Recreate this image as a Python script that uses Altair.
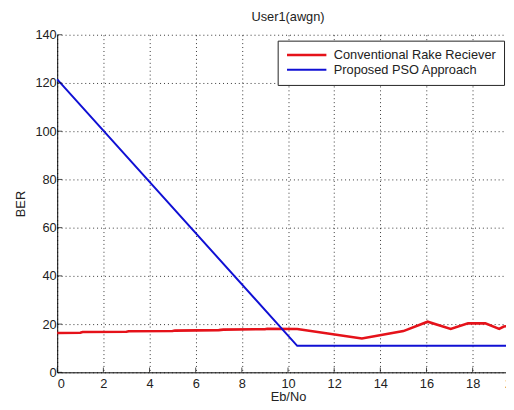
import altair as alt
import pandas as pd

title_text = "User1(awgn)"
x_title = "Eb/No"
y_title = "BER"
series_names = ["Conventional Rake Reciever", "Proposed PSO Approach"]
series_colors = ["#e5121a", "#1010d4"]

rake_x = [0, 1, 1.1, 3, 3.1, 5, 5.1, 7, 7.2, 9, 9.1, 10.4, 13.2, 15, 16.05, 17.05, 17.8, 18.55, 19.15, 19.35, 19.6]
rake_y = [16.3, 16.4, 16.7, 16.8, 17.0, 17.1, 17.3, 17.5, 17.7, 17.9, 18.1, 18.0, 14.0, 17.1, 21.0, 18.0, 20.3, 20.3, 18.0, 19.0, 19.2]

pso_x = [0, 10.4, 19.6]
pso_y = [121.5, 11.0, 11.0]

x_ticks = [0, 2, 4, 6, 8, 10, 12, 14, 16, 18, 20]
y_ticks = [0, 20, 40, 60, 80, 100, 120, 140]

rows = []
for i, (x, y) in enumerate(zip(rake_x, rake_y)):
    rows.append({"series": series_names[0], "x": x, "y": y, "o": i})
for i, (x, y) in enumerate(zip(pso_x, pso_y)):
    rows.append({"series": series_names[1], "x": x, "y": y, "o": i})
df = pd.DataFrame(rows)

xt_df = pd.DataFrame({"x": x_ticks})
yt_df = pd.DataFrame({"y": y_ticks})

FONT = "Liberation Sans"
FS = 13

x_enc = alt.X("x:Q", scale=alt.Scale(domain=[0, 20], nice=False),
              axis=alt.Axis(title=x_title, values=x_ticks, format="d"))
y_enc = alt.Y("y:Q", scale=alt.Scale(domain=[0, 140], nice=False),
              axis=alt.Axis(title=y_title, values=y_ticks, format="d"))

lines = alt.Chart(df).mark_line().encode(
    x=x_enc,
    y=y_enc,
    color=alt.Color("series:N",
                    scale=alt.Scale(domain=series_names, range=series_colors),
                    legend=alt.Legend(title=None, orient="none", legendX=224, legendY=6,
                                      symbolType="M-1,0H7", symbolSize=100,
                                      symbolStrokeWidth=2, symbolFillColor="transparent",
                                      labelFontSize=FS, labelLimit=400,
                                      labelFont=FONT, labelColor="#222",
                                      strokeColor="#222", fillColor="white",
                                      padding=8, rowPadding=1, labelOffset=36)),
    strokeWidth=alt.StrokeWidth("series:N",
                                scale=alt.Scale(domain=series_names, range=[2.6, 2]),
                                legend=None),
    order="o:Q",
)

xticks_layer = alt.Chart(xt_df).mark_tick(
    orient="vertical", size=5, thickness=1, color="#000", yOffset=-2.5
).encode(x=alt.X("x:Q"), y=alt.datum(0))

yticks_layer = alt.Chart(yt_df).mark_tick(
    orient="horizontal", size=5, thickness=1, color="#000", xOffset=2.5
).encode(y=alt.Y("y:Q"), x=alt.datum(0))

chart = alt.layer(lines, xticks_layer, yticks_layer).properties(
    width=506, height=396,
    autosize=alt.AutoSizeParams(type="fit", contains="padding"),
    title=alt.TitleParams(title_text, fontSize=FS, font=FONT, fontWeight="normal",
                          color="#222", offset=5),
    padding={"left": 6, "top": 0, "right": -14, "bottom": -3},
).configure_view(
    stroke=None
).configure_axis(
    grid=True, gridColor="#000", gridDash=[1, 3], gridOpacity=0.8, gridWidth=1,
    domainColor="#000", domainWidth=1, ticks=False,
    labelFont=FONT, labelFontSize=FS, labelColor="#222",
    titleFont=FONT, titleFontSize=FS, titleFontWeight="normal", titleColor="#222",
).configure_axisX(
    labelPadding=5, titlePadding=1
).configure_axisY(
    labelPadding=1, titlePadding=8
)

chart.save("out.html", embed_options={"renderer": "svg", "actions": False})
